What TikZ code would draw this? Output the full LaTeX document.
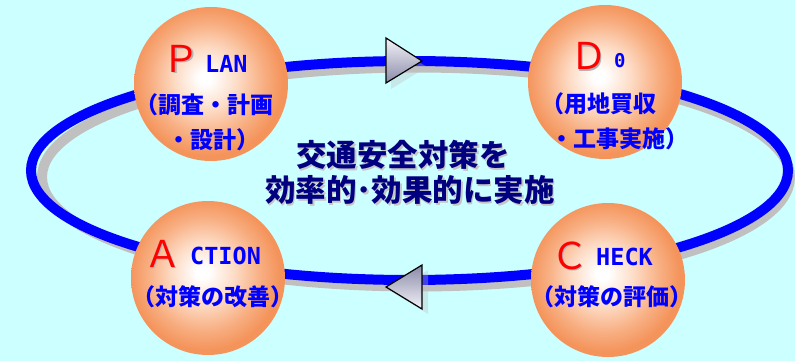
\documentclass[tikz,border=0pt]{standalone}
\usepackage{fontspec}
\newfontfamily\jp{Noto Sans CJK JP}
\newfontfamily\mono{DejaVu Sans Mono}
\usetikzlibrary{shadings}
\definecolor{bg}{HTML}{CCFFFF}
\definecolor{ringblue}{HTML}{0000FF}
\definecolor{ringshadow}{HTML}{C0C0C0}
\definecolor{orgedge}{HTML}{F4935A}
\definecolor{orgmid}{HTML}{F8B084}
\definecolor{orginner}{HTML}{FDDCC6}
\definecolor{txtblue}{HTML}{0000FF}
\definecolor{navy}{HTML}{000080}
\definecolor{bigred}{HTML}{FF0000}
\definecolor{arrlight}{HTML}{F4F4FA}
\definecolor{arrdark}{HTML}{8A8AA8}
\pgfdeclareradialshading{ball}{\pgfpoint{-2bp}{2bp}}{color(0bp)=(white); color(2bp)=(white); color(10bp)=(orginner); color(18bp)=(orgmid); color(24.5bp)=(orgedge); color(50bp)=(orgedge)}
\tikzset{
  phase/.style={circle, shading=ball, minimum size=154pt, inner sep=0pt},
  bigletter/.style={text=bigred, font=\jp\fontsize{37}{37}\selectfont, inner sep=0pt},
  bigshadow/.style={text=gray!60, font=\jp\fontsize{37}{37}\selectfont, inner sep=0pt},
  latin/.style={text=txtblue, font=\mono\bfseries\fontsize{23.5}{23.5}\selectfont, inner sep=0pt, anchor=west},
  jline/.style={text=txtblue, font=\jp\bfseries\fontsize{23}{23}\selectfont, inner sep=0pt},
  mainline/.style={text=navy, font=\jp\bfseries\fontsize{30.5}{30.5}\selectfont, inner sep=0pt},
  mainshadow/.style={text=gray!45, font=\jp\bfseries\fontsize{30.5}{30.5}\selectfont, inner sep=0pt},
  arrowtri/.style={draw=black, line width=1.2pt, line join=miter},
}
\begin{document}
\begin{tikzpicture}[x=1pt,y=-1pt]
\useasboundingbox (0,0) rectangle (795,361);
\fill[bg] (0,0) rectangle (795,361);
% ring
\draw[ringshadow, line width=10pt] (416,177) ellipse [x radius=374, y radius=109.5];
\draw[ringblue, line width=10pt] (409.5,170.5) ellipse [x radius=378.5, y radius=109.5];
% direction triangles
\fill[gray!50, opacity=0.35] (391,44) -- (427,67) -- (391,89) -- cycle;
\shade[top color=arrlight, bottom color=arrdark, arrowtri] (386,38) -- (422,61) -- (386,83) -- cycle;
\fill[gray!50, opacity=0.35] (428,270) -- (392,292) -- (428,314) -- cycle;
\shade[top color=arrdark, bottom color=arrlight, arrowtri] (422,265) -- (386,287) -- (422,309) -- cycle;
% phase circles
\node[phase] (plan) at (211,84) {};
\node[phase] (do) at (605,82) {};
\node[phase] (act) at (208,278) {};
\node[phase] (chk) at (608,280) {};
% PLAN
\node[bigshadow] (pS) at (182.5,60) {Ｐ};
\node[bigletter] (pL) at (181,58.5) {Ｐ};
\node[latin] (pT) at (205,63.5) {LAN};
\node[jline] (p1) at (204.5,105) {（調査・計画};
\node[jline] (p2) at (213.5,140) {・設計）};
% DO
\node[bigshadow] (dS) at (590,57.5) {Ｄ};
\node[bigletter] (dL) at (588.5,56) {Ｄ};
\node[latin, font=\mono\bfseries\fontsize{19}{19}\selectfont] (dT) at (614,60.5) {0};
\node[jline] (d1) at (598.5,104) {（用地買収};
\node[jline] (d2) at (619.5,139) {・工事実施）};
% ACTION
\node[bigshadow] (aS) at (164,255) {Ａ};
\node[bigletter] (aL) at (162.5,253.5) {Ａ};
\node[latin] (aT) at (190,256) {CTION};
\node[jline] (a1) at (212.5,297) {（対策の改善）};
% CHECK
\node[bigshadow] (cS) at (571,257) {Ｃ};
\node[bigletter] (cL) at (569.5,255.5) {Ｃ};
\node[latin] (cT) at (596,257) {HECK};
\node[jline] (c1) at (611.5,297) {（対策の評価）};
% centre text
\node[mainshadow] (m1s) at (404.5,156.5) {交通安全対策を};
\node[mainline] (m1) at (403,155) {交通安全対策を};
\node[mainshadow] (m2s) at (411.5,191.5) {効率的･効果的に実施};
\node[mainline] (m2) at (410,190) {効率的･効果的に実施};
\end{tikzpicture}
\end{document}
